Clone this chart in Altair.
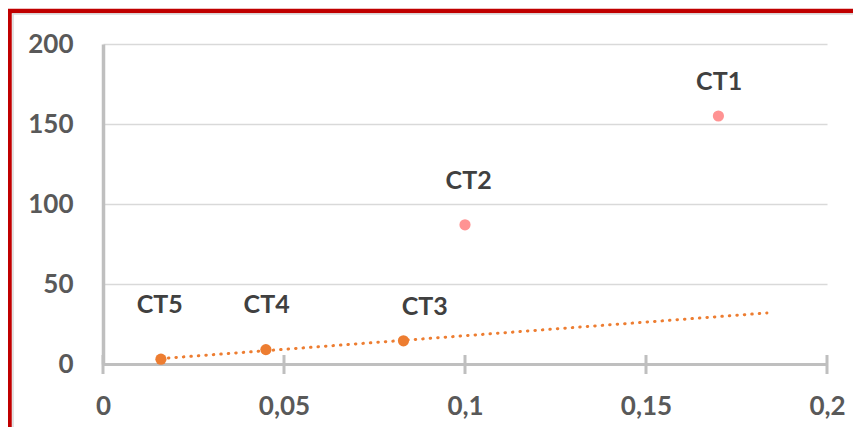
import altair as alt
import pandas as pd

names = ["CT1", "CT2", "CT3", "CT4", "CT5"]
x_vals = [0.17, 0.1, 0.083, 0.045, 0.016]
y_vals = [155, 87, 14.5, 9, 3]
series = ["A", "A", "B", "B", "B"]
label_x = [0.1702, 0.101, 0.0889, 0.0452, 0.0157]
label_y = [176, 114.4, 35.6, 36.9, 36.9]
x_ticks = [0, 0.05, 0.1, 0.15, 0.2]
y_ticks = [0, 50, 100, 150, 200]
trend_extent = [0.016, 0.1834]
colors = ["#FF9393", "#ED7D31"]

df = pd.DataFrame({
    "name": names, "x": x_vals, "y": y_vals, "series": series,
    "label_x": label_x, "label_y": label_y,
})
ticks_df = pd.DataFrame({"t": x_ticks})
one = pd.DataFrame({"a": [0]})

FONT = "Lato"
xs = alt.Scale(domain=[0, 0.2], nice=False, zero=False)
ys = alt.Scale(domain=[0, 200], nice=False)

xaxis = alt.Axis(
    values=x_ticks, labelExpr="replace(format(datum.value, ''), '.', ',')",
    grid=False, ticks=False, domainColor="#BFBFBF", domainWidth=3,
    labelFont=FONT, labelFontSize=26, labelFontWeight="bold", labelColor="#595959",
    labelPadding=42, labelBaseline="middle", labelFlush=False, labelOverlap=False,
    title=None,
)
yaxis = alt.Axis(
    values=y_ticks, format="d", grid=True, gridColor="#D9D9D9", gridWidth=1.5,
    ticks=False, domainColor="#BFBFBF", domainWidth=3.5,
    labelFont=FONT, labelFontSize=26, labelFontWeight="bold", labelColor="#595959",
    labelPadding=30, labelOverlap=False, title=None,
)

border = alt.Chart(one).mark_rect(fillOpacity=0, stroke="#C00000", strokeWidth=4.5).encode(
    x=alt.value(-93.5), x2=alt.value(950), y=alt.value(-33), y2=alt.value(600)
)
inner = alt.Chart(one).mark_rect(fillOpacity=0, stroke="#D9D9D9", strokeWidth=1.5).encode(
    x=alt.value(-90), x2=alt.value(950), y=alt.value(-30), y2=alt.value(600)
)

trend = alt.Chart(df).transform_filter(alt.datum.series == "B").transform_regression(
    "x", "y", extent=trend_extent
).mark_line(color=colors[1], strokeDash=[0.5, 7], strokeWidth=3, strokeCap="round").encode(
    x=alt.X("x:Q", scale=xs, axis=xaxis), y=alt.Y("y:Q", scale=ys, axis=yaxis)
)

tick_marks = alt.Chart(ticks_df).mark_rule(color="#BFBFBF", strokeWidth=3).encode(
    x=alt.X("t:Q", scale=xs, axis=xaxis), y=alt.value(311), y2=alt.value(330)
)

points = alt.Chart(df).mark_circle(size=125, opacity=1).encode(
    x=alt.X("x:Q", scale=xs, axis=xaxis),
    y=alt.Y("y:Q", scale=ys, axis=yaxis),
    color=alt.Color("series:N", scale=alt.Scale(domain=["A", "B"], range=colors), legend=None),
)

labels = alt.Chart(df).mark_text(
    font=FONT, fontSize=25, fontWeight="bold", color="#404040", baseline="middle"
).encode(
    x=alt.X("label_x:Q", scale=xs, axis=xaxis),
    y=alt.Y("label_y:Q", scale=ys, axis=yaxis),
    text="name:N",
)

chart = alt.layer(border, inner, trend, tick_marks, points, labels).properties(
    width=724, height=320,
    padding={"left": 95, "top": 36, "right": 26, "bottom": 63},
    autosize=alt.AutoSizeParams(type="none"),
    background="white",
).configure_view(strokeWidth=0)

chart.save("out.html", embed_options={"renderer": "svg", "actions": False})
